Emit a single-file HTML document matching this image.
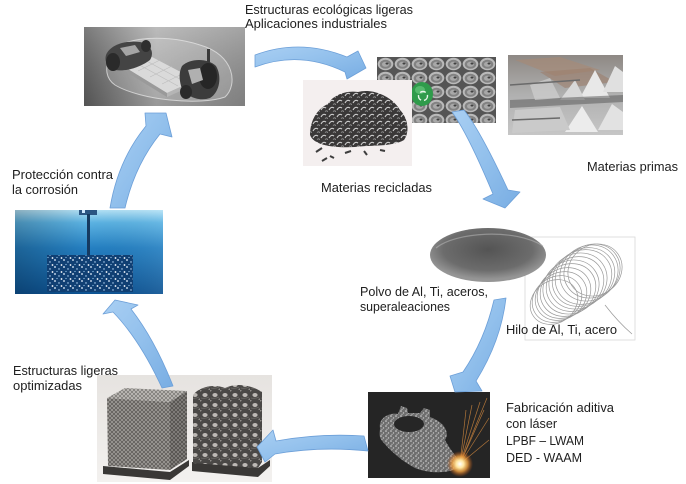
<!DOCTYPE html>
<html><head><meta charset="utf-8">
<style>
html,body{margin:0;padding:0;background:#fff;}
svg{display:block;}
text{font-family:"Liberation Sans",sans-serif;font-size:13px;fill:#202020;}
</style></head><body>
<svg width="686" height="484" viewBox="0 0 686 484" xmlns="http://www.w3.org/2000/svg">
<defs>
 <linearGradient id="carbg" x1="0" y1="0" x2="1" y2="0">
  <stop offset="0" stop-color="#5e5e5e"/>
  <stop offset="0.45" stop-color="#adadad"/>
  <stop offset="1" stop-color="#909090"/>
 </linearGradient>
 <linearGradient id="carv" x1="0" y1="0" x2="0" y2="1">
  <stop offset="0" stop-color="#fff" stop-opacity="0.18"/>
  <stop offset="1" stop-color="#000" stop-opacity="0.12"/>
 </linearGradient>
 <linearGradient id="blu" x1="0" y1="0" x2="0" y2="1">
  <stop offset="0" stop-color="#b4e2f6"/>
  <stop offset="0.15" stop-color="#5bb2e2"/>
  <stop offset="0.45" stop-color="#2580c2"/>
  <stop offset="1" stop-color="#0e5494"/>
 </linearGradient>
 <linearGradient id="bluh" x1="0" y1="0" x2="1" y2="0">
  <stop offset="0" stop-color="#000" stop-opacity="0.22"/>
  <stop offset="0.5" stop-color="#000" stop-opacity="0"/>
  <stop offset="1" stop-color="#fff" stop-opacity="0.08"/>
 </linearGradient>
 <radialGradient id="pow" cx="0.5" cy="0.4" r="0.55">
  <stop offset="0" stop-color="#545454"/>
  <stop offset="0.7" stop-color="#6c6c6c"/>
  <stop offset="1" stop-color="#959595"/>
 </radialGradient>
 <radialGradient id="spark" cx="0.5" cy="0.5" r="0.5">
  <stop offset="0" stop-color="#ffffff"/>
  <stop offset="0.3" stop-color="#ffe6a0"/>
  <stop offset="0.6" stop-color="#f0a040" stop-opacity="0.8"/>
  <stop offset="1" stop-color="#c05010" stop-opacity="0"/>
 </radialGradient>
 <linearGradient id="latbg" x1="0" y1="0" x2="0" y2="1">
  <stop offset="0" stop-color="#e6e3e0"/>
  <stop offset="1" stop-color="#f3f1ef"/>
 </linearGradient>
 <linearGradient id="arr" x1="0" y1="0" x2="1" y2="1">
  <stop offset="0" stop-color="#a9cff3"/>
  <stop offset="0.5" stop-color="#92c0ec"/>
  <stop offset="1" stop-color="#78ade3"/>
 </linearGradient>
 <linearGradient id="ing" x1="0" y1="0" x2="0" y2="1">
  <stop offset="0" stop-color="#8e8884"/>
  <stop offset="0.5" stop-color="#b0b0b0"/>
  <stop offset="1" stop-color="#c6c6c6"/>
 </linearGradient>
 <pattern id="spk" width="9" height="7" patternUnits="userSpaceOnUse">
  <rect width="9" height="7" fill="#103f73"/>
  <circle cx="1" cy="1" r="0.9" fill="#e8f4ff"/>
  <circle cx="5" cy="3" r="0.7" fill="#bfe0ff"/>
  <circle cx="7.5" cy="6" r="0.9" fill="#ffffff"/>
  <circle cx="3" cy="5.5" r="0.6" fill="#9fd0f5"/>
 </pattern>
 <pattern id="gsp" width="5" height="5" patternUnits="userSpaceOnUse">
  <rect width="5" height="5" fill="#6e6e6e"/>
  <circle cx="1" cy="1" r="0.8" fill="#d8d8d8"/>
  <circle cx="3.5" cy="3" r="0.7" fill="#c4c4c4"/>
  <circle cx="2" cy="4.2" r="0.5" fill="#eeeeee"/>
 </pattern>
 <pattern id="lat" width="4" height="4" patternUnits="userSpaceOnUse">
  <rect width="4" height="4" fill="#9a9793"/>
  <path d="M0,0L4,4M4,0L0,4" stroke="#4e4b48" stroke-width="0.6"/>
 </pattern>
 <pattern id="latl" width="4" height="4" patternUnits="userSpaceOnUse">
  <rect width="4" height="4" fill="#bdbab6"/>
  <path d="M0,0L4,4M4,0L0,4" stroke="#6a6865" stroke-width="0.6"/>
 </pattern>
 <pattern id="gyr" width="10" height="10" patternUnits="userSpaceOnUse">
  <rect width="10" height="10" fill="#4a4846"/>
  <ellipse cx="5" cy="5" rx="2.6" ry="2" fill="#bdb9b5"/>
  <circle cx="0" cy="0" r="1.6" fill="#8e8b87"/>
  <circle cx="10" cy="10" r="1.6" fill="#8e8b87"/>
  <path d="M1,8 Q5,9 9,7" stroke="#6e6b68" stroke-width="0.8" fill="none"/>
 </pattern>
 <pattern id="can" x="377" y="57" width="17" height="14" patternUnits="userSpaceOnUse">
  <rect width="17" height="14" fill="#5a5a5a"/>
  <ellipse cx="8.5" cy="7" rx="7.8" ry="6.2" fill="#c4c4c4"/>
  <ellipse cx="8.5" cy="7.3" rx="5.8" ry="4.5" fill="#8a8a8a"/>
  <ellipse cx="8.5" cy="7.3" rx="3.5" ry="2.5" fill="#b2b2b2"/>
  <ellipse cx="10" cy="6.5" rx="1.5" ry="1" fill="#444"/>
 </pattern>
 <pattern id="scr" width="8" height="7" patternUnits="userSpaceOnUse">
  <rect width="8" height="7" fill="#3a3838"/>
  <path d="M1,5 Q3,1 6,3" stroke="#cfcfcf" stroke-width="1.1" fill="none"/>
  <path d="M5,6.5 Q7,5 7.8,6.8" stroke="#9a9a9a" stroke-width="0.8" fill="none"/>
 </pattern>
</defs>

<rect width="686" height="484" fill="#fff"/>

<!-- Car image -->
<rect x="84" y="27" width="161" height="79" fill="url(#carbg)"/>
<rect x="84" y="27" width="161" height="79" fill="url(#carv)"/>
<path d="M108,60 C110,38 160,32 200,45 C235,55 238,85 225,97 C200,106 140,100 115,85 C105,78 106,68 108,60 Z" fill="#ffffff" fill-opacity="0.15" stroke="#e6e6e6" stroke-opacity="0.75" stroke-width="1"/>
<polygon points="123,66 152,57 196,80 167,93" fill="#dadada"/>
<polygon points="123,66 167,93 167,97 123,70" fill="#9a9a9a"/>
<polygon points="167,93 196,80 196,84 167,97" fill="#b5b5b5"/>
<path d="M134,62 L178,86 M143,59 L187,83 M138,71 L160,60 M150,77 L172,66 M162,84 L184,73" stroke="#bcbcbc" stroke-width="0.6"/>
<path d="M106,55 C110,45 125,40 140,42 C150,44 155,52 150,60 C142,66 128,72 115,70 C108,68 104,62 106,55 Z" fill="#444"/>
<ellipse cx="113" cy="62" rx="7" ry="9" fill="#2a2a2a"/>
<ellipse cx="146" cy="46" rx="5" ry="6" fill="#2e2e2e"/>
<path d="M120,48 L135,45 L140,52 L126,56 Z" fill="#a5a5a5"/>
<path d="M182,66 C190,58 208,58 216,66 C222,76 220,92 210,98 C198,102 185,96 181,86 C179,78 179,72 182,66 Z" fill="#3c3c3c"/>
<ellipse cx="208" cy="76" rx="9" ry="13" fill="#262626"/>
<ellipse cx="186" cy="92" rx="6" ry="7" fill="#2a2a2a"/>
<rect x="207" y="49" width="3" height="14" fill="#3a3a3a"/>
<path d="M188,70 L200,68 L203,80 L192,84 Z" fill="#b0b0b0"/>

<!-- Cans image -->
<rect x="377" y="57" width="119" height="66" fill="url(#can)"/>
<rect x="377" y="57" width="119" height="66" fill="#000" fill-opacity="0.05"/>
<ellipse cx="422" cy="94" rx="11" ry="12" fill="#2f9b4b"/>
<ellipse cx="420" cy="90" rx="5" ry="4" fill="#6fcf83" fill-opacity="0.6"/>
<circle cx="423" cy="96" r="4.5" fill="none" stroke="#e8f6ea" stroke-width="1.4" stroke-dasharray="6 3"/>

<!-- Ingots image -->
<rect x="508" y="55" width="115" height="80" fill="url(#ing)"/>
<polygon points="515,60 560,57 600,70 555,76" fill="#a58a78" fill-opacity="0.7"/>
<polygon points="540,72 590,68 615,82 565,88" fill="#9c7f6c" fill-opacity="0.6"/>
<polygon points="580,98 595,70 610,98" fill="#e8e8e8"/>
<polygon points="603,92 615,66 623,72 623,92" fill="#e0e0e0"/>
<polygon points="560,100 575,80 585,100" fill="#d8d8d8"/>
<polygon points="510,100 623,95 623,102 510,108" fill="#5c5c5c" fill-opacity="0.55"/>
<polygon points="565,132 582,106 598,132" fill="#ececec"/>
<polygon points="598,130 612,104 623,112 623,130" fill="#e2e2e2"/>
<polygon points="515,110 560,107 570,130 512,133" fill="#cacaca"/>
<polygon points="530,85 550,78 560,98 535,100" fill="#d0d0d0" fill-opacity="0.7"/>
<path d="M510,85 L580,80 M512,120 L560,118" stroke="#6a6a6a" stroke-width="1.5"/>

<!-- Scrap image -->
<rect x="303" y="80" width="109" height="86" fill="#f4efef"/>
<path d="M310,135 C310,120 318,108 328,104 C332,96 345,90 358,92 C372,88 392,96 400,110 C408,118 410,132 404,140 C392,147 370,145 355,147 C335,148 314,146 310,135 Z" fill="url(#scr)"/>
<path d="M316,152 l6,-4 M330,156 l4,2 M345,153 l6,-2 M364,151 l3,4 M322,161 l5,-3 M380,150 l5,1" stroke="#3e3e3e" stroke-width="2"/>

<!-- Wire image -->
<rect x="525" y="237" width="110" height="103" fill="#fff" stroke="#d8d8d8" stroke-width="0.8"/>
<g fill="none" stroke="#999" stroke-width="0.7">
 <ellipse cx="554" cy="302" rx="25" ry="21" transform="rotate(-35 554 302)"/>
 <ellipse cx="557" cy="299" rx="26" ry="22" transform="rotate(-35 557 299)"/>
 <ellipse cx="561" cy="296" rx="27" ry="23" transform="rotate(-35 561 296)"/>
 <ellipse cx="564" cy="293" rx="28" ry="24" transform="rotate(-35 564 293)"/>
 <ellipse cx="568" cy="290" rx="29" ry="25" transform="rotate(-35 568 290)"/>
 <ellipse cx="571" cy="287" rx="29" ry="26" transform="rotate(-35 571 287)"/>
 <ellipse cx="575" cy="284" rx="30" ry="26" transform="rotate(-35 575 284)"/>
 <ellipse cx="578" cy="281" rx="30" ry="27" transform="rotate(-35 578 281)"/>
 <ellipse cx="582" cy="278" rx="31" ry="27" transform="rotate(-35 582 278)"/>
 <ellipse cx="585" cy="276" rx="31" ry="27" transform="rotate(-35 585 276)"/>
 <ellipse cx="589" cy="273" rx="30" ry="27" transform="rotate(-35 589 273)"/>
 <ellipse cx="592" cy="271" rx="29" ry="26" transform="rotate(-35 592 271)"/>
 <ellipse cx="595" cy="270" rx="28" ry="25" transform="rotate(-35 595 270)"/>
 <path d="M605,305 C615,318 625,328 632,334"/>
</g>

<!-- Powder (over wire image) -->
<ellipse cx="488" cy="255" rx="58" ry="27" fill="url(#pow)"/>
<path d="M436,248 C455,232 515,228 543,246" stroke="#b0b0b0" stroke-width="1.2" fill="none" opacity="0.6"/>

<!-- Laser image -->
<rect x="368" y="392" width="122" height="86" fill="#252525"/>
<path d="M380,428 C378,418 390,412 398,414 L401,406 L407,408 L408,413 L420,413 L424,408 L430,410 L430,417 C444,422 450,432 445,440 C450,450 458,458 462,466 C450,474 430,474 415,468 C400,460 390,450 383,442 C378,437 380,432 380,428 Z" fill="url(#gsp)"/>
<ellipse cx="409" cy="424" rx="15" ry="8" fill="#262626"/>
<g stroke="#e09040" stroke-width="0.7" opacity="0.75">
 <line x1="460" y1="464" x2="487" y2="398"/>
 <line x1="460" y1="464" x2="480" y2="402"/>
 <line x1="460" y1="464" x2="472" y2="405"/>
 <line x1="460" y1="464" x2="489" y2="418"/>
 <line x1="460" y1="464" x2="489" y2="440"/>
 <line x1="460" y1="464" x2="466" y2="410"/>
 <line x1="460" y1="464" x2="484" y2="410"/>
</g>
<circle cx="460" cy="464" r="13" fill="url(#spark)"/>

<!-- Lattice image -->
<rect x="97" y="375" width="175" height="107" fill="url(#latbg)"/>
<polygon points="103,466 170,472 189,460 189,466 170,480 103,474" fill="#3a3836"/>
<polygon points="107,398 170,402 170,470 108,466" fill="url(#lat)"/>
<polygon points="107,398 125,388 187,391 170,402" fill="url(#latl)"/>
<polygon points="170,402 187,391 187,459 170,470" fill="url(#lat)"/>
<polygon points="170,402 187,391 187,459 170,470" fill="#000" fill-opacity="0.15"/>
<polygon points="192,462 258,468 270,460 270,466 258,477 192,471" fill="#3a3836"/>
<path d="M193,395 C200,386 215,384 225,388 C235,383 250,384 262,392 L262,462 L258,468 L193,463 Z" fill="url(#gyr)"/>

<!-- Corrosion image -->
<rect x="15" y="210" width="148" height="84" fill="url(#blu)"/>
<rect x="15" y="210" width="148" height="84" fill="url(#bluh)"/>
<rect x="79" y="210" width="18" height="5" fill="#2b5582"/>
<rect x="82" y="210" width="3" height="3" fill="#cfe8ff"/>
<rect x="87" y="214" width="3" height="44" fill="#163a60"/>
<rect x="47" y="255" width="86" height="37" fill="url(#spk)"/>

<!-- Arrows -->
<g fill="url(#arr)" stroke="#6c9fd8" stroke-width="0.8" stroke-linejoin="round">
 <path d="M255,55 Q300,38 347,57 L358,51 L366,68 L347,79 L345,72 Q300,50 255,67 Z"/>
 <path d="M452,112 Q467.5,133 493,194 L483,199 L505,208 L520,192 L508,190 Q480,130 464,110 Z"/>
 <path d="M494,300 Q484.5,340.5 463,372 L450,376 L455,392 L482,391 L476,381 Q501,341 506,298 Z"/>
 <path d="M364,436 Q320,433 276,441 L273,430 L257,447 L265,462 L275,454 Q320,446 368,451 Z"/>
 <path d="M162,388 Q140,340 113,312 L103,314 L115,300 L138,305 L131,309 Q155,340 173,386 Z"/>
 <path d="M110,208 Q118,160 146,126 L145,113 L166,113 L172,137 L160,134 Q135,165 125,208 Z"/>
</g>

<!-- Labels -->
<text x="245" y="14" textLength="168" lengthAdjust="spacingAndGlyphs">Estructuras ecológicas ligeras</text>
<text x="245" y="28" textLength="142" lengthAdjust="spacingAndGlyphs">Aplicaciones industriales</text>
<text x="12" y="179" textLength="101" lengthAdjust="spacingAndGlyphs">Protección contra</text>
<text x="12" y="194" textLength="66" lengthAdjust="spacingAndGlyphs">la corrosión</text>
<text x="321" y="192" textLength="111" lengthAdjust="spacingAndGlyphs">Materias recicladas</text>
<text x="587" y="171" textLength="91" lengthAdjust="spacingAndGlyphs">Materias primas</text>
<text x="360" y="296" textLength="128" lengthAdjust="spacingAndGlyphs">Polvo de Al, Ti, aceros,</text>
<text x="360" y="311" textLength="90" lengthAdjust="spacingAndGlyphs">superaleaciones</text>
<text x="506" y="334" textLength="111" lengthAdjust="spacingAndGlyphs">Hilo de Al, Ti, acero</text>
<text x="506" y="412" textLength="108" lengthAdjust="spacingAndGlyphs">Fabricación aditiva</text>
<text x="506" y="428" textLength="51" lengthAdjust="spacingAndGlyphs">con láser</text>
<text x="506" y="445" textLength="78" lengthAdjust="spacingAndGlyphs">LPBF – LWAM</text>
<text x="506" y="462" textLength="76" lengthAdjust="spacingAndGlyphs">DED - WAAM</text>
<text x="13" y="375" textLength="105" lengthAdjust="spacingAndGlyphs">Estructuras ligeras</text>
<text x="13" y="390" textLength="69" lengthAdjust="spacingAndGlyphs">optimizadas</text>
</svg>
</body></html>
